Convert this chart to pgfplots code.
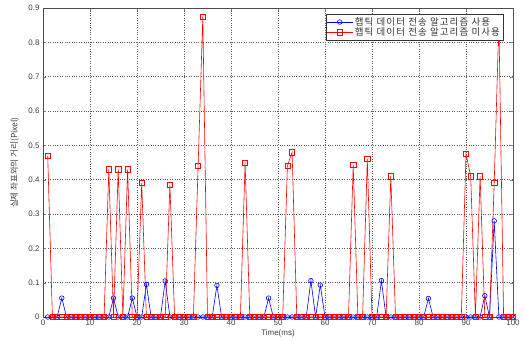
\documentclass[border=0pt]{standalone}
\usepackage{pgfplots}
\pgfplotsset{compat=1.18}
\usepackage{pgfplotstable}
\usepackage{fontspec}
\setmainfont{Liberation Sans}
\newfontfamily\kr{Noto Sans CJK KR}
\newfontfamily\krl[LetterSpace=12]{Noto Sans CJK KR}
\pgfplotstableread{
x r b
1 0.47 0
2 0 0
3 0 0
4 0 0.055
5 0 0
6 0 0
7 0 0
8 0 0
9 0 0
10 0 0
11 0 0
12 0 0
13 0 0
14 0.43 0
15 0 0.055
16 0.43 0
17 0 0
18 0.43 0
19 0 0.055
20 0 0
21 0.39 0
22 0 0.095
23 0 0
24 0 0
25 0 0
26 0 0.105
27 0.385 0
28 0 0
29 0 0
30 0 0
31 0 0
32 0 0
33 0.44 0
34 0.875 0
35 0 0
36 0 0
37 0 0.092
38 0 0
39 0 0
40 0 0
41 0 0
42 0 0
43 0.45 0
44 0 0
45 0 0
46 0 0
47 0 0
48 0 0.055
49 0 0
50 0 0
51 0 0
52 0.44 0
53 0.48 0
54 0 0
55 0 0
56 0 0
57 0 0.106
58 0 0
59 0 0.093
60 0 0
61 0 0
62 0 0
63 0 0
64 0 0
65 0 0
66 0.443 0
67 0 0
68 0 0
69 0.46 0
70 0 0
71 0 0
72 0 0.106
73 0 0
74 0.41 0
75 0 0
76 0 0
77 0 0
78 0 0
79 0 0
80 0 0
81 0 0
82 0 0.054
83 0 0
84 0 0
85 0 0
86 0 0
87 0 0
88 0 0
89 0 0
90 0.475 0
91 0.41 0
92 0 0
93 0.41 0
94 0 0.062
95 0 0
96 0.39 0.28
97 0.86 0
98 0 0
99 0 0
100 0 0
}\data
\begin{document}
\begin{tikzpicture}
\begin{axis}[
  scale only axis,
  width=470bp, height=309bp,
  xmin=0, xmax=100, ymin=0, ymax=0.9,
  xtick={0,10,...,100},
  ytick={0,0.1,...,0.9},
  yticklabel style={/pgf/number format/fixed, /pgf/number format/precision=1},
  /pgf/number format/assume math mode=true,
  tick label style={font=\fontsize{8}{9}\selectfont, text=black!75},
  xticklabel style={yshift=1bp},
  tick align=inside,
  major tick length=3bp,
  grid=major,
  major grid style={dotted, black!65, line width=0.6pt},
  axis line style={black!70, line width=0.6pt},
  xlabel={Time(ms)},
  ylabel={\kr 실제 좌표와의 거리(Pixel)},
  xlabel style={font=\fontsize{8}{9}\selectfont, text=black!75, at={(axis description cs:0.5,-0.053)}, anchor=center},
  ylabel style={font=\kr\fontsize{8.5}{9}\selectfont, text=black!75, at={(axis description cs:-0.06,0.5)}, anchor=center},
  legend style={at={(rel axis cs:0.979,0.98)}, anchor=north east,
    font=\krl\fontsize{9.5}{10}\selectfont, draw=black!80, fill=white,
    inner sep=1pt, row sep=-3pt, text=black!80},
  legend cell align=left,
  legend image code/.code={\draw[mark repeat=2,mark phase=2] plot coordinates {(0cm,0cm) (0.45cm,0cm) (0.9cm,0cm)};},
]
\addplot[blue, line width=0.6pt, mark=o, mark size=2.3bp, mark options={solid}] table[x=x, y=b] {\data};
\addlegendentry{햅틱 데이터 전송 알고리즘 사용}
\addplot[red, line width=0.6pt, mark=square, mark size=2.6bp, mark options={solid}] table[x=x, y=r] {\data};
\addlegendentry{햅틱 데이터 전송 알고리즘 미사용}
\draw[black!40, line width=2bp] (rel axis cs:1,0) ++(1bp,0) -- ([xshift=1bp]rel axis cs:1,1);
\end{axis}
\path ([xshift=-43bp,yshift=-21bp]current axis.south west) rectangle ([xshift=12bp,yshift=8bp]current axis.north east);
\end{tikzpicture}
\end{document}
